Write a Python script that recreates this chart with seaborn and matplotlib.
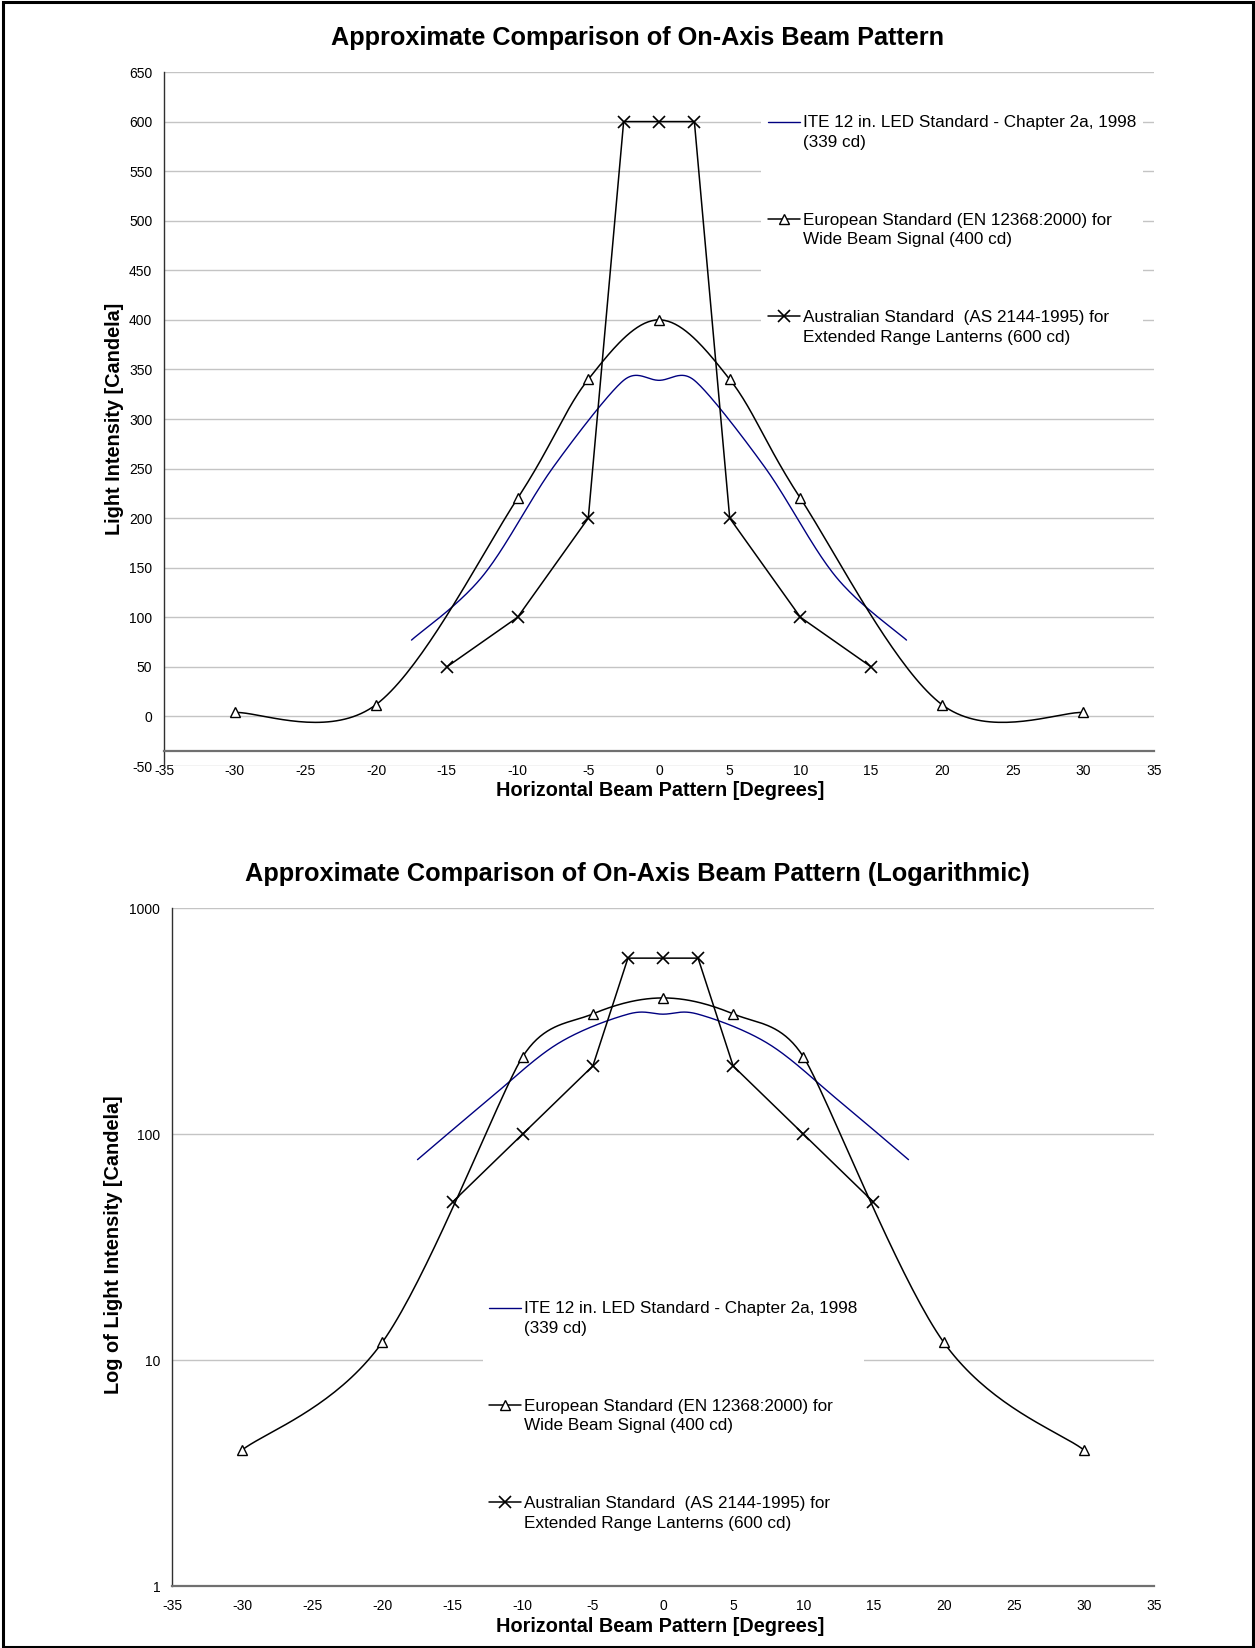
import numpy as np
import pandas as pd
import seaborn as sns
import matplotlib
matplotlib.use("Agg")
import matplotlib.pyplot as plt
from matplotlib.lines import Line2D
from matplotlib.legend_handler import HandlerLine2D
from matplotlib.patches import Rectangle
from matplotlib.ticker import FixedLocator, FuncFormatter, NullLocator

# ---------------- data ----------------
ite_x = [-17.5, -12.5, -7.5, -2.5, 0, 2.5, 7.5, 12.5, 17.5]
ite_y = [77, 141, 251, 339, 339, 339, 251, 141, 77]
eu_x = [-30, -20, -10, -5, 0, 5, 10, 20, 30]
eu_y = [4, 12, 220, 340, 400, 340, 220, 12, 4]
au_x = [-15, -10, -5, -2.5, 0, 2.5, 5, 10, 15]
au_y = [50, 100, 200, 600, 600, 600, 200, 100, 50]

series_labels = [
    "ITE 12 in. LED Standard - Chapter 2a, 1998\n(339 cd)",
    "European Standard (EN 12368:2000) for\nWide Beam Signal (400 cd)",
    "Australian Standard  (AS 2144-1995) for\nExtended Range Lanterns (600 cd)",
]
title_top = "Approximate Comparison of On-Axis Beam Pattern"
title_bottom = "Approximate Comparison of On-Axis Beam Pattern (Logarithmic)"
xlabel = "Horizontal Beam Pattern [Degrees]"
ylabel_top = "Light Intensity [Candela]"
ylabel_bottom = "Log of Light Intensity [Candela]"
x_ticks = list(range(-35, 40, 5))
y_ticks_top = list(range(-50, 700, 50))
y_ticks_bottom = [1, 10, 100, 1000]

NAVY = "#000080"

sns.set_style("white")
plt.rcParams["font.family"] = ["Liberation Sans", "DejaVu Sans"]
plt.rcParams["axes.unicode_minus"] = False
plt.rcParams["text.color"] = "black"
plt.rcParams["axes.labelcolor"] = "black"

W, H = 1255, 1648
fig = plt.figure(figsize=(W / 100, H / 100), dpi=100)


def excel_smooth(x, y, sx, sy, n=40):
    """Excel-style smoothed Bezier through the points, computed in pixel space."""
    pts = np.column_stack([np.asarray(x, float) * sx, np.asarray(y, float) * sy])
    N = len(pts)
    tang = []
    for i in range(N):
        p0 = pts[max(i - 1, 0)]
        p1 = pts[i]
        p2 = pts[min(i + 1, N - 1)]
        d02 = np.linalg.norm(p2 - p0)
        ds = [d for d in (np.linalg.norm(p1 - p0), np.linalg.norm(p2 - p1)) if d > 0]
        f = 1.0 / 6.0
        if d02 > 0 and ds:
            f = min(f, min(ds) / (2.0 * d02))
        tang.append(f * (p2 - p0))
    t = np.linspace(0, 1, n)[:, None]
    out = []
    for i in range(N - 1):
        p1, p2 = pts[i], pts[i + 1]
        c1 = p1 + tang[i]
        c2 = p2 - tang[i + 1]
        seg = (1 - t) ** 3 * p1 + 3 * (1 - t) ** 2 * t * c1 + 3 * (1 - t) * t ** 2 * c2 + t ** 3 * p2
        out.append(seg if i == 0 else seg[1:])
    c = np.vstack(out)
    c[:, 0] /= sx
    c[:, 1] /= sy
    return c


def smooth(x, y, log, sx, sy):
    if log:
        c = excel_smooth(x, np.log10(y), sx, sy)
        c[:, 1] = 10 ** c[:, 1]
    else:
        c = excel_smooth(x, y, sx, sy)
    return c


class FirstLineHandler(HandlerLine2D):
    def __init__(self, shift=0.0, **kw):
        super().__init__(**kw)
        self.shift = shift

    def create_artists(self, legend, orig_handle, xdescent, ydescent, width,
                       height, fontsize, trans):
        arts = super().create_artists(legend, orig_handle, xdescent, ydescent,
                                      width, height, fontsize, trans)
        for a in arts:
            a.set_ydata(np.asarray(a.get_ydata()) + self.shift * fontsize)
        return arts


def px_axes(l, t, r, b):
    return [l / W, 1 - b / H, (r - l) / W, (b - t) / H]


def draw(ax, log, sx, sy):
    ite = smooth(ite_x, ite_y, log, sx, sy)
    eu = smooth(eu_x, eu_y, log, sx, sy)
    sns.lineplot(x=ite[:, 0], y=ite[:, 1], sort=False, estimator=None,
                 color=NAVY, lw=1.0, ax=ax)
    sns.lineplot(x=eu[:, 0], y=eu[:, 1], sort=False, estimator=None,
                 color="black", lw=1.1, ax=ax)
    sns.lineplot(x=au_x, y=au_y, sort=False, estimator=None,
                 color="black", lw=1.1, ax=ax)
    ax.plot(eu_x, eu_y, ls="none", marker="^", ms=7.5, mfc="white",
            mec="black", mew=1.0, zorder=4, clip_on=False)
    ax.plot(au_x, au_y, ls="none", marker="x", ms=8.5, mec="black",
            mew=1.2, zorder=4, clip_on=False)

    if log:
        ax.set_yscale("log")
        ax.set_ylim(1, 1000)
        ax.yaxis.set_major_locator(FixedLocator(y_ticks_bottom))
        ax.yaxis.set_major_formatter(FuncFormatter(lambda v, p: "%g" % v))
        ax.yaxis.set_minor_locator(NullLocator())
    else:
        ax.set_ylim(-50, 650)
        ax.set_yticks(y_ticks_top)
        ax.spines["bottom"].set_position(("data", -35))
    ax.set_xlim(-35, 35)
    ax.set_xticks(x_ticks)

    ax.grid(axis="y", color="#c4c4c4", lw=1.0)
    ax.grid(axis="x", visible=False)
    for s in ("top", "right"):
        ax.spines[s].set_visible(False)
    ax.spines["left"].set_color("#303030")
    ax.spines["left"].set_linewidth(1.0)
    ax.spines["bottom"].set_color("#707070")
    ax.spines["bottom"].set_linewidth(1.6)
    ax.tick_params(axis="x", direction="out", length=4, width=1.0,
                   color="#707070", pad=5, labelsize=10, labelcolor="black")
    ax.tick_params(axis="y", direction="out", length=3.5, width=1.0,
                   color="#303030", pad=5, labelsize=10, labelcolor="black")
    ax.set_xlabel(xlabel, fontsize=14.3, fontweight="bold", color="black")
    ax.set_ylabel(ylabel_bottom if log else ylabel_top, fontsize=14.3,
                  fontweight="bold", color="black")
    ax.xaxis.label.set_verticalalignment("center")
    ax.yaxis.label.set_verticalalignment("center")


handles = [
    Line2D([], [], color=NAVY, lw=1.0),
    Line2D([], [], color="black", lw=1.1, marker="^", ms=7.5, mfc="white",
           mec="black", mew=1.0),
    Line2D([], [], color="black", lw=1.1, marker="x", ms=8.5, mec="black",
           mew=1.2),
]


def add_legend(ax, left_px, top_px):
    leg = ax.legend(handles, series_labels, loc="upper left",
                    bbox_to_anchor=(left_px / W, 1 - top_px / H),
                    bbox_transform=fig.transFigure, fontsize=12.35,
                    frameon=True, fancybox=False, framealpha=1.0,
                    facecolor="white", edgecolor="none",
                    handlelength=1.86, handletextpad=0.17,
                    labelspacing=3.67, borderpad=0.4, numpoints=1,
                    handler_map={Line2D: FirstLineHandler(shift=0.64)})
    for t in leg.get_texts():
        t.set_linespacing(1.37)
        t.set_color("black")
    leg.set_zorder(10)
    return leg


# ---------------- top chart ----------------
T_L, T_T, T_R, T_B = 164, 72, 1154, 766
ax1 = fig.add_axes(px_axes(T_L, T_T, T_R, T_B))
draw(ax1, log=False, sx=(T_R - T_L) / 70.0, sy=(T_B - T_T) / 700.0)
ax1.xaxis.set_label_coords((660 - T_L) / (T_R - T_L), (T_B - 790) / (T_B - T_T))
ax1.yaxis.set_label_coords((114 - T_L) / (T_R - T_L), 0.5)
add_legend(ax1, 752.5, 100)
fig.text(638 / W, 1 - 38 / H, title_top, ha="center", va="center",
         fontsize=18.2, fontweight="bold", color="black")

# ---------------- bottom chart ----------------
B_L, B_T, B_R, B_B = 172, 908, 1154, 1586
ax2 = fig.add_axes(px_axes(B_L, B_T, B_R, B_B))
draw(ax2, log=True, sx=(B_R - B_L) / 70.0, sy=(B_B - B_T) / 3.0)
ax2.xaxis.set_label_coords((660 - B_L) / (B_R - B_L), (B_B - 1627) / (B_B - B_T))
ax2.yaxis.set_label_coords((114 - B_L) / (B_R - B_L), (B_B - 1245) / (B_B - B_T))
add_legend(ax2, 474, 1286)
fig.text(637 / W, 1 - 874.5 / H, title_bottom, ha="center", va="center",
         fontsize=18.3, fontweight="bold", color="black")

# figure border
fig.patches.append(Rectangle((2.5 / W, 1.5 / H), (1253 - 2.5) / W,
                             (1646.5 - 1.5) / H, transform=fig.transFigure,
                             fill=False, edgecolor="black", lw=2.2))

fig.savefig("out.png", dpi=100, facecolor="white")
